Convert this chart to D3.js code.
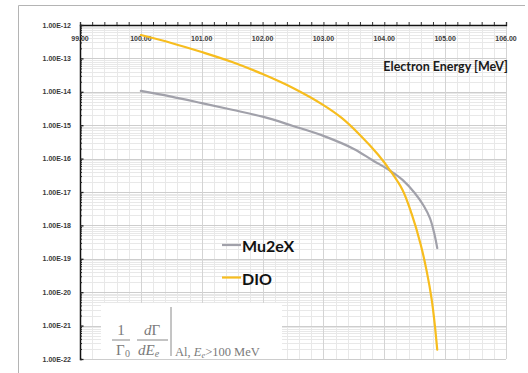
<!DOCTYPE html>
<html>
<head>
<meta charset="utf-8">
<script src="https://cdn.jsdelivr.net/npm/d3@7"></script>
<style>
  body { margin: 0; background: #fff; }
  svg { display: block; }
</style>
</head>
<body>
<svg id="chart" width="528" height="373"></svg>
<script>
// electron energy [MeV] and rate
const mu2eEnergy = [100.0, 100.5, 101.0, 101.5, 102.0, 102.5, 103.0, 103.5, 103.8, 104.1, 104.3, 104.5, 104.65, 104.75, 104.82, 104.87];
const mu2eRate   = [1.06e-14, 7.2e-15, 4.6e-15, 2.9e-15, 1.8e-15, 9.5e-16, 4.8e-16, 1.95e-16, 9.1e-17, 4.3e-17, 2.3e-17, 9.3e-18, 3.8e-18, 1.65e-18, 5.9e-19, 2.1e-19];
const dioEnergy  = [100.0, 100.5, 101.0, 101.5, 102.0, 102.5, 103.0, 103.3, 103.6, 103.9, 104.1, 104.3, 104.45, 104.6, 104.7, 104.78, 104.83, 104.87];
const dioRate    = [5.0e-13, 2.9e-13, 1.55e-13, 7.8e-14, 3.4e-14, 1.3e-14, 4.0e-15, 1.65e-15, 5.1e-16, 1.3e-16, 4.3e-17, 1.15e-17, 2.2e-18, 2.6e-19, 4.0e-20, 5.9e-21, 1.05e-21, 1.9e-22];
const xTickValues = [99, 100, 101, 102, 103, 104, 105, 106];
const yTickValues = [1e-12, 1e-13, 1e-14, 1e-15, 1e-16, 1e-17, 1e-18, 1e-19, 1e-20, 1e-21, 1e-22];
const seriesNames = ['Mu2eX', 'DIO'];
const seriesColors = ['#a1a1aa', '#f7bd1e'];

const svg = d3.select('#chart');
const plotLeft = 80, plotRight = 506, plotTop = 25, plotBottom = 359;

const x = d3.scaleLinear().domain([99, 106]).range([plotLeft, plotRight]);
const y = d3.scaleLog().domain([1e-12, 1e-22]).range([plotTop, plotBottom]);

// outer frame (left and top edges only visible)
svg.append('path')
  .attr('d', 'M18.5,373 V5.5 H525')
  .attr('fill', 'none')
  .attr('stroke', '#b4b4b4')
  .attr('stroke-width', 1);

const grid = svg.append('g');
// minor grid
grid.append('g').selectAll('line')
  .data(y.ticks(20))
  .join('line')
  .attr('x1', plotLeft).attr('x2', plotRight)
  .attr('y1', (d) => Math.round(y(d)) + 0.5).attr('y2', (d) => Math.round(y(d)) + 0.5)
  .attr('stroke', '#e8e8e8');
grid.append('g').selectAll('line')
  .data(x.ticks(35))
  .join('line')
  .attr('y1', plotTop).attr('y2', plotBottom)
  .attr('x1', (d) => Math.round(x(d)) + 0.5).attr('x2', (d) => Math.round(x(d)) + 0.5)
  .attr('stroke', '#e8e8e8');
// major grid
grid.append('g').selectAll('line')
  .data(yTickValues)
  .join('line')
  .attr('x1', plotLeft).attr('x2', plotRight)
  .attr('y1', (d) => Math.round(y(d)) + 0.5).attr('y2', (d) => Math.round(y(d)) + 0.5)
  .attr('stroke', '#cdcdcd');
grid.append('g').selectAll('line')
  .data(xTickValues)
  .join('line')
  .attr('y1', plotTop).attr('y2', plotBottom)
  .attr('x1', (d) => Math.round(x(d)) + 0.5).attr('x2', (d) => Math.round(x(d)) + 0.5)
  .attr('stroke', '#d4d4d4');

// formula box
svg.append('rect')
  .attr('x', 101).attr('y', 303)
  .attr('width', 181).attr('height', 56)
  .attr('fill', '#fff');

// axes
const xAxis = svg.append('g')
  .attr('transform', `translate(0,${plotTop})`)
  .call(d3.axisTop(x).tickValues(x.ticks(35)).tickSize(3).tickFormat(''));
xAxis.select('.domain').attr('stroke', '#111').attr('stroke-width', 1.3);
xAxis.selectAll('line').attr('stroke', '#333');

svg.append('g')
  .selectAll('text')
  .data(xTickValues)
  .join('text')
  .attr('x', (d) => x(d))
  .attr('y', 41)
  .attr('text-anchor', 'middle')
  .attr('font-family', 'Liberation Sans, sans-serif')
  .attr('font-weight', 'bold')
  .attr('font-size', 7)
  .attr('fill', '#3a3a3a')
  .text((d) => d3.format('.2f')(d));

const yAxis = svg.append('g')
  .attr('transform', `translate(${plotLeft},0)`)
  .call(d3.axisRight(y).tickValues(y.ticks(20)).tickSize(2).tickFormat(''));
yAxis.select('.domain').attr('stroke', '#111').attr('stroke-width', 1.5);
yAxis.selectAll('line').attr('stroke', '#222');
yAxis.selectAll('.tick')
  .filter((d) => yTickValues.includes(d))
  .select('line').attr('x2', 3.5).attr('stroke-width', 1.3);

svg.append('g')
  .selectAll('text')
  .data(yTickValues)
  .join('text')
  .attr('x', 71)
  .attr('y', (d) => y(d) + 2.5)
  .attr('text-anchor', 'end')
  .attr('font-family', 'Liberation Sans, sans-serif')
  .attr('font-weight', 'bold')
  .attr('font-size', 7)
  .attr('fill', '#3a3a3a')
  .text((d) => '1.00E' + Math.round(Math.log10(d)));

// axis title
svg.append('text')
  .attr('x', 508).attr('y', 71)
  .attr('text-anchor', 'end')
  .attr('font-family', 'Lato, sans-serif')
  .attr('font-weight', 'bold')
  .attr('font-size', 12.5)
  .attr('fill', '#1a1a1a')
  .text('Electron Energy [MeV]');

// curves
const line = d3.line()
  .x((d) => x(d[0]))
  .y((d) => y(d[1]))
  .curve(d3.curveCatmullRom.alpha(0.5));

const series = [
  d3.zip(mu2eEnergy, mu2eRate),
  d3.zip(dioEnergy, dioRate),
];
svg.append('g')
  .selectAll('path')
  .data(series)
  .join('path')
  .attr('d', line)
  .attr('fill', 'none')
  .attr('stroke', (d, i) => seriesColors[i])
  .attr('stroke-width', 2.2)
  .attr('stroke-linecap', 'round');

// legend
const legend = svg.append('g');
seriesNames.forEach((name, i) => {
  const ly = 245 + i * 32.5;
  legend.append('line')
    .attr('x1', 222).attr('x2', 241)
    .attr('y1', ly).attr('y2', ly)
    .attr('stroke', seriesColors[i])
    .attr('stroke-width', 2.2);
  legend.append('text')
    .attr('x', 242).attr('y', ly + 7)
    .attr('font-family', 'Lato, sans-serif')
    .attr('font-weight', 'bold')
    .attr('font-size', 16)
    .attr('fill', '#111')
    .text(name);
});

// formula
const f = svg.append('g').attr('fill', '#7a7a7a');
const serif = 'Liberation Serif, serif';
f.append('text').attr('x', 121).attr('y', 335).attr('text-anchor', 'middle')
  .attr('font-family', serif).attr('font-size', 15).text('1');
f.append('line').attr('x1', 112).attr('x2', 130).attr('y1', 340).attr('y2', 340)
  .attr('stroke', '#7a7a7a').attr('stroke-width', 0.9);
f.append('text').attr('x', 116).attr('y', 355)
  .attr('font-family', serif).attr('font-size', 15).text('Γ');
f.append('text').attr('x', 125).attr('y', 357)
  .attr('font-family', serif).attr('font-size', 10).text('0');

f.append('text').attr('x', 152).attr('y', 335).attr('text-anchor', 'middle')
  .attr('font-family', serif).attr('font-size', 15)
  .html('<tspan font-style="italic">d</tspan>Γ');
f.append('line').attr('x1', 137).attr('x2', 168).attr('y1', 340).attr('y2', 340)
  .attr('stroke', '#7a7a7a').attr('stroke-width', 0.9);
f.append('text').attr('x', 138).attr('y', 355)
  .attr('font-family', serif).attr('font-size', 15).attr('font-style', 'italic')
  .html('dE<tspan font-size="10" dy="2">e</tspan>');

f.append('line').attr('x1', 171).attr('x2', 171).attr('y1', 307).attr('y2', 356)
  .attr('stroke', '#8a8a8a').attr('stroke-width', 1);
f.append('text').attr('x', 175).attr('y', 356)
  .attr('font-family', serif).attr('font-size', 12.5)
  .html('Al, <tspan font-style="italic">E</tspan><tspan font-size="8.5" dy="1.5" font-style="italic">e</tspan><tspan dy="-1.5">&gt;100 MeV</tspan>');
</script>
</body>
</html>
